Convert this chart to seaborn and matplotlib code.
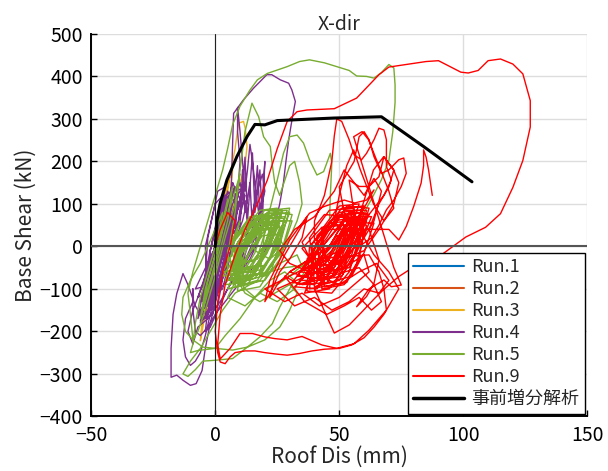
import matplotlib
matplotlib.use("Agg")
import matplotlib.pyplot as plt
import pandas as pd
import seaborn as sns

# ---- data (Roof Dis [mm], Base Shear [kN]) ----
run1_xy = [(0, 0), (0.5, 25), (1.2, 50), (0.8, 30), (-0.3, -10), (-1.0, -40), (-0.5, -20),
           (0.4, 15), (1.0, 35), (0.2, 5), (-0.6, -25), (0, 0)]

run2_xy = [(0, 0), (1, 40), (2.5, 90), (1.5, 60), (-0.5, -30), (-2, -90), (-1, -60),
           (1, 20), (2, 70), (0, 10), (-1.5, -60), (0, 0)]

run3_xy = [(0, 0), (2, 50), (4, 110), (6, 170), (8, 230), (9.4, 290), (11.4, 294), (12.1, 278),
           (12.8, 235), (12, 190), (10, 150), (8, 110), (6, 70), (4, 30), (3, 90), (5, 150),
           (7, 180), (6, 120), (3, 50), (0, -20), (-2, -80), (-4, -140), (-5.5, -190), (-6, -222),
           (-5, -190), (-3, -130), (-1, -70), (1, 0), (3, 70), (5, 130), (6, 170), (4, 120),
           (2, 50), (0, -10), (-2, -70), (-3, -120), (-1, -60), (2, 20), (4, 90), (5, 130),
           (3, 80), (0, 10), (-2, -60), (-4, -130), (-4.5, -170), (-3, -150), (-1, -90), (0, -30)]

run4_main = [(0, 0), (2, 50), (4, 100), (3, 40), (0, -30), (-3, -90), (-5, -130), (-3, -70), (0, 0),
             (3, 70), (6, 120), (7, 150), (5, 80), (2, 0), (-2, -80), (-5, -140), (-7, -170),
             (-5, -110), (-2, -40), (2, 40), (5, 110), (7, 140), (9, 100), (8, 30), (5, -40),
             (1, -110), (-3, -160), (-6, -180), (-4, -120), (0, -50), (4, 30), (7, 100), (10, 150),
             (11, 120), (9, 50), (6, -20), (2, -90), (-2, -150), (-5, -170),
             (-8, -140), (-11, -90), (-13, -64), (-15.5, -111), (-17, -160), (-17.8, -240),
             (-17.8, -308), (-15.5, -303), (-13, -315), (-10, -327), (-7.7, -323), (-5.3, -292),
             (-4, -240), (-2, -180), (1, -110), (4, -40), (7, 40), (9, 120), (10, 200), (9, 270),
             (9, 327), (10, 270), (11, 200), (12, 130), (13, 180), (14, 240), (15, 200), (16, 150),
             (17, 100), (18, 60), (16, 20), (13, -20), (9, -60), (5, -100), (1, -150), (-2, -190),
             (-4, -200), (-3, -150), (0, -90), (3, -20), (6, 60),
             (7.4, 313), (11.4, 345), (15.4, 372), (20.8, 404), (22.8, 404), (26.2, 392),
             (29.6, 384), (30.9, 368), (32.3, 341), (31, 300), (29.6, 250), (28.5, 200),
             (27.5, 150), (26, 100), (24, 50), (21, 0), (17, -40), (12, -70), (8, -100), (4, -130),
             (0, -160), (-3, -190), (-6, -210), (-8, -200), (-9, -150), (-9, -100),
             (-9, -130), (-12, -170), (-13, -220), (-12, -260), (-10, -280), (-8, -270), (-6, -250),
             (-4, -210), (-2, -160), (1, -100), (4, -40), (7, 30), (9, 90), (11, 140), (12, 100),
             (13, 60), (12, 0), (10, -50), (8, -80), (11, -40), (14, 20), (18, 80), (20, 130),
             (19, 170), (17, 130), (15, 80), (13, 30), (11, -20), (8, -60), (5, -80)]

run4_loops = [(-6, -150), (-3, -140), (2, -20), (6, 120), (3, 110), (-2, -10),
              (-4, -170), (-1, -160), (3, -40), (8, 100), (5, 130), (0, 0),
              (-7, -120), (-4, -110), (0, 0), (4, 140), (1, 130), (-3, 20),
              (-5, -160), (-2, -150), (4, -30), (10, 110), (7, 150), (1, 10),
              (-8, -100), (-5, -95), (-1, 20), (3, 120), (0, 100), (-4, 0),
              (-3, -130), (0, -120), (5, 0), (11, 130), (8, 140), (2, 30),
              (-6, -175), (-3, -165), (1, -60), (6, 90), (4, 110), (-1, -20),
              (-2, -100), (1, -90), (6, 20), (12, 150), (9, 120), (4, 20),
              (10, 60), (11, 180), (12, 80), (14, 150), (15, 40), (17, 190), (18, 70), (19, 120),
              (16, 0), (12, -40), (7, -80), (2, -130), (-3, -170), (-7, -190), (-9, -230),
              (-11, -200), (-9, -150), (-5, -90), (-1, -30), (3, 40), (6, 80), (8, 50), (5, 10),
              (2, -40), (-2, -110), (-5, -150), (-3, -100), (0, -40), (4, 30), (9, 90), (13, 110),
              (11, 60), (7, 0), (3, -60), (-1, -120),
              (-4, -140), (-1, -130), (3, -20), (7, 130), (4, 120), (0, 10),
              (-2, -150), (1, -140), (5, -10), (9, 140), (6, 120), (2, 0),
              (-6, -130), (-3, -120), (1, -10), (5, 110), (2, 90), (-2, -10),
              (0, -110), (3, -100), (7, 0), (12, 120), (9, 100), (4, 10),
              (10, 50), (12, 210), (13, 60), (15, 220), (16, 80), (18, 180), (19, 60), (20, 200),
              (18, 20), (14, -30), (9, -70)]

run5_main = [(0, 0), (3, 60), (5, 110), (3, 40), (0, -40), (-3, -100), (-5, -150), (-3, -80), (1, 0),
             (4, 80), (7, 140), (5, 60), (1, -30), (-3, -110), (-6, -170), (-4, -100), (0, -20),
             (4, 60), (8, 130), (10, 170), (8, 100), (4, 20), (0, -70), (-4, -150), (-7, -200),
             (-9, -220), (-10, -160), (-11, -110),
             (-9, -60), (-6, 0), (-3, 60), (0, 120), (3, 180), (5, 230), (7, 286), (10, 330),
             (14, 368), (17, 392), (21, 407), (25, 415), (29, 423), (34, 435), (38, 439), (44, 432),
             (49, 423), (54, 414), (57, 401), (61, 400), (64, 396), (67, 409), (70, 428), (72, 420),
             (72.5, 380), (72.5, 339), (71.6, 271), (70, 202), (67, 157), (63, 111), (58, 60),
             (54, 20), (48, -10), (42, -30), (35, -45), (28, -50), (22, -60), (18, -70),
             (20, 40), (23, 110), (25, 156), (27.5, 219), (30, 258), (33, 262), (35.6, 243),
             (38, 204), (41, 168), (43.7, 176), (46.4, 219), (47, 196), (46.4, 120), (46, 47),
             (42, 0), (36, -40), (30, -70), (25, -90), (20, -100), (16, -120), (12, -100), (8, -60),
             (5, -20),
             (8, 80), (10, 180), (12, 270), (14.8, 337), (17.5, 305), (19.5, 258), (22.2, 235),
             (22.9, 196), (24, 150), (26, 120), (30, 190), (32, 200), (34, 150), (35, 100), (33, 60),
             (30, 20), (26, -20), (22, -50), (18, -80), (14, -90),
             (8, -110), (3, -150), (-2, -200), (-6, -240), (-10, -270), (-13, -300), (-11, -306),
             (-8, -290), (-5, -270), (0, -268), (7, -264), (13, -237), (18, -213), (23, -182),
             (26, -143), (30, -100), (32, -80), (28, -60), (22, -80), (16, -120), (10, -170),
             (4, -210), (0, -240), (-5, -237), (-9, -220), (-12, -200), (-13.5, -160), (-13, -120),
             (-10, -80), (-6, -40), (-3, 0), (0, 40), (3, 80), (1, 20), (-3, -60), (-6, -120),
             (-8, -180), (-9, -230), (-10, -250), (-7, -245), (0, -240), (7, -244), (13, -237),
             (20, -220), (26, -190), (30, -150), (33, -110), (30, -90), (24, -110), (18, -130),
             (12, -110), (8, -70), (6, -30), (8, 20), (10, 60), (8, 30), (5, -10)]

run5_loops = [(5, -80), (14, -75), (20, -20), (25, 70), (16, 60), (9, 10),
              (7, -60), (16, -50), (22, 0), (27, 80), (19, 75), (11, 20),
              (4, -90), (12, -85), (18, -30), (23, 60), (15, 50), (8, 0),
              (9, -70), (18, -65), (24, -10), (29, 85), (21, 80), (13, 25),
              (6, -50), (13, -55), (19, -5), (24, 50), (17, 55), (10, 5),
              (8, -95), (17, -80), (22, -30), (28, 65), (20, 70), (12, 10),
              (3, -70), (11, -65), (16, -15), (21, 75), (14, 70), (7, 15),
              (10, -85), (19, -70), (25, -20), (30, 90), (22, 85), (14, 30),
              (6, -65), (15, -60), (21, -10), (26, 55), (18, 45), (10, -5),
              (11, -50), (20, -45), (26, 5), (28, 70), (20, 65), (13, 15),
              (5, -100), (13, -90), (18, -45), (22, 40), (15, 35), (8, -20),
              (12, -75), (21, -60), (27, -5), (31, 75), (24, 80), (16, 20),
              (7, -40), (15, -35), (21, 10), (25, 90), (18, 85), (11, 35),
              (9, -105), (18, -95), (23, -50), (27, 30), (19, 25), (12, -30),
              (6, -75), (15, -70), (21, -15), (26, 75), (18, 70), (10, 15),
              (8, -55), (17, -45), (23, 5), (28, 60), (21, 55), (13, 10),
              (4, -80), (12, -75), (17, -25), (22, 70), (14, 65), (7, 10),
              (10, -60), (19, -55), (25, 0), (30, 80), (23, 75), (15, 25),
              (7, -85), (16, -75), (22, -25), (26, 45), (18, 40), (11, -10),
              (9, -40), (17, -30), (23, 20), (27, 85), (20, 85), (12, 40),
              (3, -60), (10, -55), (15, -5), (20, 55), (13, 50), (6, 0),
              (11, -90), (20, -80), (26, -30), (31, 60), (23, 60), (15, 0),
              (5, -120), (12, -140), (18, -110), (25, -130), (32, -100), (36, -60), (33, -20),
              (26, -40), (20, -70), (14, -60), (10, -20), (14, 30), (19, 60), (24, 30), (28, 0),
              (22, -30), (16, -10), (13, 40), (17, 70), (23, 65), (27, 40)]

run9_main = [(0, 0), (2, 40), (5, 80), (8, 60), (6, 0), (3, -60), (1, -130), (0, -200), (1, -250),
             (2, -272), (4, -276), (6, -260),
             (8, -250), (12, -246), (16, -246), (20, -250), (24, -253), (29, -256), (34, -252),
             (39, -246), (44, -242), (50, -240), (55, -232), (60, -215), (64, -190), (68, -160),
             (71, -130), (74, -100),
             (70, -60), (64, -20), (60, 20), (58, 60), (55, 40), (50, -20), (45, -70), (40, -100),
             (48, -204), (54, -185), (59, -155), (64, -124), (68, -101), (74, -71), (82, -41),
             (90, -25), (101, 22), (109, 45), (115, 77), (120, 139), (124, 202), (127, 281),
             (127, 343), (124, 406), (120, 429), (115, 441), (110, 437), (106, 414), (102, 408),
             (99, 410), (95, 422), (90, 437), (85, 435), (70, 422), (66, 404), (57, 349), (48, 324),
             (37, 321), (33, 317), (29, 294), (25, 230), (21, 156), (17, 100), (12, 40), (8, -20),
             (4, -90), (2, -160), (1, -230), (2, -265), (6, -240), (10, -205),
             (15, -205), (20, -213), (24, -217), (29, -220), (35, -212), (43, -232), (49, -240),
             (56, -229), (62, -197), (66, -170), (69, -150), (68, -100), (66, -60), (62, -20),
             (38, -30), (30, -60), (25, -90), (22, -120), (24, -70), (28, -20), (33, 30), (37, 70),
             (35, 20), (30, -30), (26, -60), (23, -100), (20, -130), (22, -80), (27, -20), (30, 15),
             (34, 47), (38, 78), (44, 94), (48, 102), (52, 109), (56, 102), (61, 109), (64, 133),
             (60, 90), (55, 50), (50, 20), (44, -20), (40, 10),
             (40, 60), (44, 120), (47, 200), (48, 260), (49, 300), (51, 294), (54, 251), (56, 215),
             (59, 204), (61, 219), (64, 251), (66, 278), (68, 274), (69, 251), (69, 188), (71, 156),
             (68, 120), (64, 90), (60, 60), (55, 40), (52, 80), (50, 140), (53, 170), (56, 200),
             (58, 258), (60, 270), (62, 251), (64, 211), (67, 172), (70, 180), (74, 204), (76, 208),
             (77, 172), (75, 141), (72, 109), (69, 86), (66, 50), (63, 20), (58, 0),
             (54, 156), (58, 141), (62, 141), (66, 164), (68, 211), (72, 180), (70, 140), (66, 100),
             (62, 40), (66, -32), (64, -87), (61, -118), (57, -142), (62, -100), (68, -79),
             (71, -95), (75, -91), (72, -50)]

run9_waves = [(55.8, 258), (59.2, 270), (61.8, 251), (64.5, 211), (67.2, 172), (70, 130), (72, 90),
              (68, 60), (63.8, 100), (58.5, 180), (55.8, 227), (53, 190), (50, 120), (48, 60),
              (52, 30), (58, 70), (63.8, 180), (67.9, 211), (71.9, 180), (74, 150), (72, 100),
              (66, 40), (60, -10),
              (25, -100), (32, -140), (40, -120), (47, -150), (54, -130), (60, -100), (66, -110),
              (70, -80), (65, -40), (58, -60), (50, -90), (42, -70), (34, -90), (28, -70),
              (36, -130), (45, -160), (52, -140), (58, -120), (63, -150), (67, -130), (64, -90),
              (58, -50)]

run9_loops = [(35, -90), (45, -85), (52, -30), (58, 70), (48, 60), (40, 0),
              (38, -100), (48, -90), (55, -20), (60, 80), (50, 75), (42, 10),
              (33, -70), (42, -75), (49, -20), (56, 90), (46, 85), (38, 20),
              (40, -60), (49, -55), (55, 0), (61, 60), (52, 60), (44, 5),
              (36, -110), (46, -100), (52, -50), (57, 50), (47, 50), (40, -20),
              (42, -80), (51, -70), (57, -10), (62, 90), (53, 95), (45, 20),
              (31, -85), (40, -90), (47, -40), (54, 70), (44, 75), (35, 10),
              (39, -40), (47, -45), (53, 10), (58, 100), (50, 95), (43, 40),
              (44, -95), (53, -85), (58, -30), (60, 40), (52, 35), (46, -30),
              (34, -60), (43, -65), (50, -10), (55, 60), (46, 55), (38, 0),
              (37, -105), (47, -110), (54, -60), (59, 30), (49, 25), (41, -40),
              (41, -70), (50, -60), (56, 0), (62, 75), (54, 80), (46, 20),
              (36, -50), (46, -55), (53, 0), (59, 85), (50, 80), (41, 25),
              (43, -100), (52, -90), (57, -40), (61, 50), (53, 50), (47, -10),
              (32, -95), (41, -100), (48, -50), (55, 40), (45, 40), (37, -30),
              (39, -75), (48, -70), (54, -15), (60, 95), (51, 90), (43, 30),
              (45, -60), (54, -50), (59, 10), (63, 70), (55, 70), (48, 10),
              (34, -80), (44, -80), (51, -25), (57, 65), (48, 70), (39, 5),
              (40, -95), (50, -80), (56, -20), (61, 85), (52, 85), (44, 25),
              (37, -65), (45, -60), (51, -5), (56, 75), (48, 70), (41, 15),
              (42, -45), (50, -40), (56, 20), (60, 65), (52, 60), (46, 0),
              (30, -60), (38, -75), (45, -35), (52, 50), (43, 45), (35, -5),
              (46, -85), (55, -70), (60, -15), (64, 55), (57, 55), (50, -10),
              (20, -100), (28, -130), (35, -110), (42, -140), (50, -120), (56, -90), (62, -60),
              (60, -20), (52, -50), (45, -30), (38, -60), (30, -40), (26, -10), (32, 40),
              (40, 70), (48, 130), (52, 180), (56, 150), (60, 120), (64, 160), (67, 130), (64, 60),
              (60, 20), (55, -10), (48, -60), (44, -20), (49, 30), (53, 70), (57, 40),
              (70, 40), (74, 15), (77, 47), (80, 94), (83, 149), (84, 190), (84, 227), (85, 210),
              (86, 180), (87, 140), (87.5, 120)]

pushover_xy = [(0, 0), (0.7, 62), (2, 102), (4.7, 156), (8.7, 211), (12.8, 258), (16, 287),
               (20, 286), (25, 296), (47.7, 302), (67, 305), (84, 235), (103.5, 152)]

run_labels = ["Run.1", "Run.2", "Run.3", "Run.4", "Run.5", "Run.9"]
run_colors = ["#0072BD", "#D95319", "#EDB120", "#7E2F8E", "#77AC30", "#FF0000"]
runs = [run1_xy, run2_xy, run3_xy, run4_main + run4_loops, run5_main + run5_loops,
        run9_main + run9_waves + run9_loops]

sns.set_theme(style="white")
plt.rcParams["font.family"] = ["Noto Sans CJK JP", "DejaVu Sans"]
plt.rcParams["axes.unicode_minus"] = True

fig = plt.figure(figsize=(6.08, 4.71), dpi=100)
ax = fig.add_axes([0.150, 0.116, 0.816, 0.812])

for pts, lab, col in zip(runs, run_labels, run_colors):
    df = pd.DataFrame(pts, columns=["dis", "shear"])
    sns.lineplot(data=df, x="dis", y="shear", sort=False, estimator=None,
                 color=col, lw=1.0, label=lab, ax=ax)

ax.axhline(0, color="#555555", lw=1.5, zorder=3)
ax.axvline(0, color="#222222", lw=0.8, zorder=3)

df_p = pd.DataFrame(pushover_xy, columns=["dis", "shear"])
sns.lineplot(data=df_p, x="dis", y="shear", sort=False, estimator=None,
             color="black", lw=2.2, label="事前増分解析", ax=ax, zorder=4)

ax.set_xlim(-50, 150)
ax.set_ylim(-400, 500)
ax.set_xticks([-50, 0, 50, 100, 150])
ax.set_yticks(range(-400, 501, 100))
ax.grid(True, color="#dddddd", lw=1)
ax.set_axisbelow(True)
for s in ["top", "right"]:
    ax.spines[s].set_visible(False)
for s in ["left", "bottom"]:
    ax.spines[s].set_color("black")
    ax.spines[s].set_linewidth(1.4)
ax.tick_params(direction="in", length=4, width=1, labelsize=14, colors="black",
               bottom=True, left=True)
ax.tick_params(axis="x", pad=6)
ax.tick_params(axis="y", pad=6)

ax.set_xlabel("Roof Dis (mm)", fontsize=15, labelpad=0)
ax.set_ylabel("Base Shear (kN)", fontsize=15, labelpad=2)
ax.set_title("X-dir", fontsize=14, pad=3)

leg = ax.legend(loc="lower right", fontsize=13, frameon=True, fancybox=False,
                edgecolor="black", framealpha=1, borderaxespad=0.15,
                handlelength=2.8, labelspacing=0.22, borderpad=0.3, handletextpad=0.4)
leg.get_frame().set_linewidth(1.0)
for line in leg.get_lines()[:6]:
    line.set_linewidth(1.5)
leg.get_lines()[6].set_linewidth(2.5)

fig.savefig("out.png", dpi=100)
